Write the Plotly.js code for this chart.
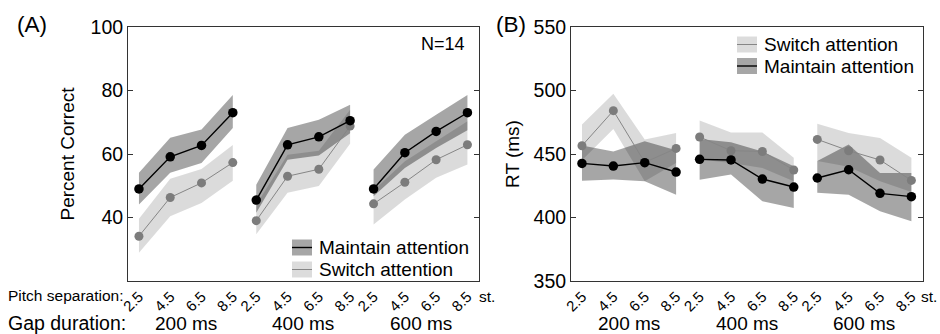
<!DOCTYPE html>
<html>
<head>
<meta charset="utf-8">
<script src="https://cdn.plot.ly/plotly-3.0.1.min.js"></script>
<style>html,body{margin:0;padding:0;background:#fff;}#chart{width:940px;height:334px;}</style>
</head>
<body>
<div id="chart"></div>
<script>
// ---------- data ----------
const pitchLabels = ['2.5', '4.5', '6.5', '8.5'];
const gapLabels = ['200 ms', '400 ms', '600 ms'];

// Panel A: percent correct (4 pitch separations x 3 gap durations)
const pcMaintain      = [49.0, 59.1, 62.7, 73.0,  45.5, 62.9, 65.4, 70.5,  49.0, 60.4, 67.1, 73.0];
const pcMaintainUpper = [54.1, 65.1, 67.7, 78.6,  50.3, 68.2, 70.8, 75.5,  55.1, 66.1, 72.4, 78.6];
const pcMaintainLower = [44.1, 54.1, 57.2, 68.2,  41.5, 58.2, 59.5, 66.5,  46.7, 55.6, 61.9, 67.5];
const pcSwitch        = [34.1, 46.3, 50.9, 57.3,  39.0, 53.0, 55.2, 68.8,  44.3, 51.1, 58.2, 62.9];
const pcSwitchUpper   = [39.6, 52.2, 55.3, 62.8,  44.0, 59.8, 61.0, 73.9,  48.5, 57.7, 64.0, 70.3];
const pcSwitchLower   = [28.9, 40.4, 44.6, 51.6,  34.7, 47.8, 49.9, 63.2,  37.8, 45.7, 52.5, 56.7];

// Panel B: reaction time (ms)
const rtSwitch        = [456.5, 484.1, 443.4, 454.4,  463.4, 452.6, 452.0, 437.4,  461.5, 452.6, 445.3, 429.2];
const rtSwitchUpper   = [473.3, 497.5, 461.5, 466.5,  476.3, 467.0, 467.0, 447.0,  473.9, 466.6, 462.6, 447.0];
const rtSwitchLower   = [445.0, 469.7, 428.5, 443.0,  445.6, 443.0, 439.0, 428.5,  444.5, 440.0, 428.5, 420.0];
const rtMaintain      = [442.6, 440.5, 443.2, 435.8,  445.8, 445.3, 430.3, 424.0,  431.1, 437.6, 419.0, 416.4];
const rtMaintainUpper = [456.6, 452.0, 460.0, 453.0,  461.8, 459.2, 452.0, 440.3,  444.5, 457.4, 435.0, 435.0];
const rtMaintainLower = [429.0, 430.0, 428.5, 418.0,  429.8, 433.8, 412.8, 407.5,  419.5, 418.0, 405.0, 397.0];

const yTicksA = [40, 60, 80, 100];
const yTicksB = [350, 400, 450, 500, 550];

// ---------- styling ----------
const FONT = 'Liberation Sans, Arial, Helvetica, sans-serif';
const GROUP_STEP = 3.75;
const maintainFill = 'rgba(0,0,0,0.35)';
const switchFill = 'rgba(0,0,0,0.14)';
const maintainLine = '#000000';
const switchLine = '#868686';
const switchMarker = '#7c7c7c';

// category positions: 4 pitch points per gap group, groups separated
const xPos = [];
gapLabels.forEach((g, gi) => pitchLabels.forEach((p, pi) => xPos.push(gi * GROUP_STEP + pi)));
const groupCenters = gapLabels.map((g, gi) => gi * GROUP_STEP + 1.5);

function withGaps(arr) {
  const xs = [], ys = [];
  gapLabels.forEach((g, gi) => {
    for (let k = 0; k < pitchLabels.length; k++) {
      const i = gi * pitchLabels.length + k;
      xs.push(xPos[i]); ys.push(arr[i]);
    }
    if (gi < gapLabels.length - 1) { xs.push(null); ys.push(null); }
  });
  return {x: xs, y: ys};
}

function bands(upper, lower, fill, xa, ya) {
  return gapLabels.map((g, gi) => {
    const idx = pitchLabels.map((p, k) => gi * pitchLabels.length + k);
    const xs = idx.map(i => xPos[i]).concat(idx.slice().reverse().map(i => xPos[i]));
    const ys = idx.map(i => upper[i]).concat(idx.slice().reverse().map(i => lower[i]));
    return {x: xs, y: ys, xaxis: xa, yaxis: ya, type: 'scatter', mode: 'lines',
            fill: 'toself', fillcolor: fill, line: {width: 0}, hoverinfo: 'skip', showlegend: false};
  });
}

function meanLine(arr, color, mcolor, width, size, xa, ya, name) {
  const d = withGaps(arr);
  return {x: d.x, y: d.y, xaxis: xa, yaxis: ya, type: 'scatter', mode: 'lines+markers', name: name,
          line: {color: color, width: width}, marker: {color: mcolor, size: size},
          connectgaps: false, showlegend: false};
}

const traces = []
  .concat(bands(pcSwitchUpper, pcSwitchLower, switchFill, 'x', 'y'))
  .concat(bands(pcMaintainUpper, pcMaintainLower, maintainFill, 'x', 'y'))
  .concat(bands(rtSwitchUpper, rtSwitchLower, switchFill, 'x2', 'y2'))
  .concat(bands(rtMaintainUpper, rtMaintainLower, maintainFill, 'x2', 'y2'));
traces.push(meanLine(pcSwitch, switchLine, switchMarker, 1, 9, 'x', 'y', 'Switch attention'));
traces.push(meanLine(pcMaintain, maintainLine, maintainLine, 1.4, 9.5, 'x', 'y', 'Maintain attention'));
traces.push(meanLine(rtSwitch, switchLine, switchMarker, 1, 9, 'x2', 'y2', 'Switch attention'));
traces.push(meanLine(rtMaintain, maintainLine, maintainLine, 1.4, 9.5, 'x2', 'y2', 'Maintain attention'));

// ---------- layout helpers (pixel -> paper) ----------
const W = 940, H = 334;
const px = v => v / W;
const py = v => 1 - v / H;

const xRange = [-0.35, 10.87];
function xAxis(domain, anchor) {
  return {domain: domain, anchor: anchor, range: xRange, showgrid: false, zeroline: false,
          showline: true, linecolor: '#333', linewidth: 1, mirror: true, ticks: '',
          tickvals: xPos, ticktext: xPos.map((v, i) => pitchLabels[i % pitchLabels.length]),
          tickangle: -45, tickfont: {family: FONT, size: 15, color: '#000'}};
}
function yAxis(domain, anchor, range, ticks, title, standoff) {
  return {domain: domain, anchor: anchor, range: range, showgrid: false, zeroline: false,
          showline: true, linecolor: '#333', linewidth: 1, mirror: 'ticks', ticks: 'inside',
          ticklen: 5, tickcolor: '#333', tickvals: ticks, ticktext: ticks.map(String),
          tickfont: {family: FONT, size: 19.5, color: '#000'},
          title: {text: title, font: {family: FONT, size: 19, color: '#000'}, standoff: standoff}};
}

const yDom = [py(281), py(27)];
const annotations = [];
function txt(text, x, y, size, xanchor, xref) {
  annotations.push({text: text, x: x, y: y, xref: xref || 'paper', yref: 'paper', showarrow: false,
                    xanchor: xanchor || 'left', yanchor: 'middle',
                    font: {family: FONT, size: size, color: '#000'}});
}
txt('(A)', px(15), py(25), 22.5);
txt('(B)', px(494), py(24), 22.5);
txt('N=14', px(467), py(44), 18, 'right');
txt('Pitch separation:', px(6), py(295), 15.5);
txt('st.', px(477), py(296), 15.5);
txt('st.', px(939), py(296), 15.5, 'right');
txt('Gap duration:', px(6), py(323), 19.5);
groupCenters.forEach((c, gi) => {
  annotations.push({text: gapLabels[gi], x: c, y: py(323), xref: 'x', yref: 'paper', showarrow: false,
                    xanchor: 'center', yanchor: 'middle', font: {family: FONT, size: 19, color: '#000'}});
  annotations.push({text: gapLabels[gi], x: c, y: py(323), xref: 'x2', yref: 'paper', showarrow: false,
                    xanchor: 'center', yanchor: 'middle', font: {family: FONT, size: 19, color: '#000'}});
});

// legends drawn as patches
const shapes = [];
function legendItem(x0, yc, patchColor, lineColor, lineWidth, label) {
  shapes.push({type: 'rect', xref: 'paper', yref: 'paper', x0: px(x0), x1: px(x0 + 20),
               y0: py(yc + 8), y1: py(yc - 8), fillcolor: patchColor, line: {width: 0}, layer: 'above'});
  shapes.push({type: 'line', xref: 'paper', yref: 'paper', x0: px(x0), x1: px(x0 + 20),
               y0: py(yc), y1: py(yc), line: {color: lineColor, width: lineWidth}, layer: 'above'});
  txt(label, px(x0 + 25), py(yc), 19);
}
legendItem(292, 247.5, '#a6a6a6', '#000', 1.4, 'Maintain attention');
legendItem(292, 269.5, '#dcdcdc', switchLine, 1, 'Switch attention');
legendItem(737, 44.5, '#dcdcdc', switchLine, 1, 'Switch attention');
legendItem(737, 66, '#a6a6a6', '#000', 1.4, 'Maintain attention');

const layout = {
  width: W, height: H, margin: {l: 0, r: 0, t: 0, b: 0},
  paper_bgcolor: '#fff', plot_bgcolor: '#fff', showlegend: false,
  font: {family: FONT, color: '#000'},
  xaxis: xAxis([px(128), px(479)], 'y'),
  yaxis: yAxis(yDom, 'x', [20, 100], yTicksA, 'Percent Correct', 10),
  xaxis2: xAxis([px(571), px(923)], 'y2'),
  yaxis2: yAxis(yDom, 'x2', [350, 550], yTicksB, 'RT (ms)', 8),
  annotations: annotations, shapes: shapes
};

Plotly.newPlot('chart', traces, layout, {staticPlot: true, displayModeBar: false});
</script>
</body>
</html>
